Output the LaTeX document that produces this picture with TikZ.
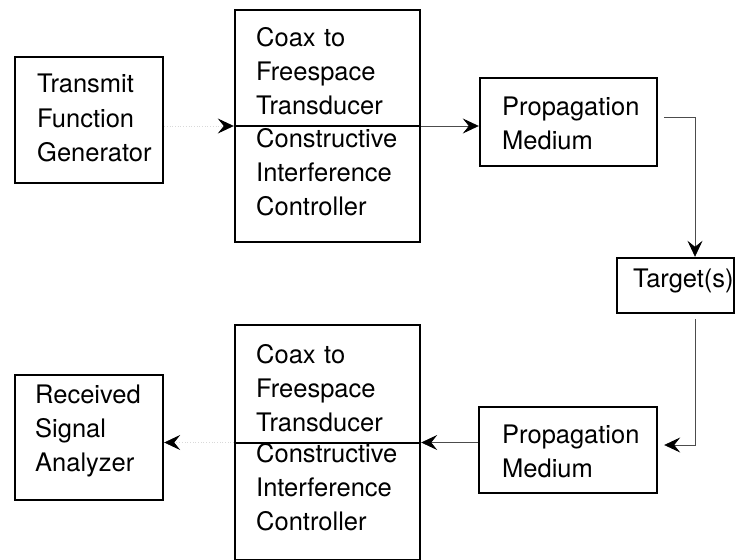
\documentclass[tikz,border=0pt]{standalone}
\usepackage{fontspec}
\setmainfont{TeX Gyre Heros}
\usetikzlibrary{arrows.meta}
\begin{document}
\begin{tikzpicture}[x=1pt,y=-1pt,
  box/.style={draw, line width=2.4pt, inner sep=0pt},
  txt/.style={anchor=base west, inner sep=0pt, align=left, text width=180pt,
              font=\fontsize{25.5}{34}\selectfont},
  tip/.style={-{Stealth[length=16pt,width=15pt,inset=6pt,color=black]}},
  conn/.style={tip, draw=black!70, line width=0.7pt},
  faint/.style={tip, draw=black!15, line width=0.7pt, dotted},
  divider/.style={line width=2pt}]
\clip (0,0) rectangle (735,559);
% boxes
\node[box, minimum width=148pt, minimum height=126pt] (tfg) at (89,120) {};
\node[box, minimum width=185pt, minimum height=232pt] (cft1) at (327.5,126) {};
\node[box, minimum width=177pt, minimum height=88pt] (pm1) at (568.5,122) {};
\node[box, minimum width=117pt, minimum height=55pt] (tgt) at (675.5,285.5) {};
\node[box, minimum width=185pt, minimum height=235pt] (cft2) at (327.5,442.5) {};
\node[box, minimum width=178pt, minimum height=86pt] (pm2) at (568,450) {};
\node[box, minimum width=148pt, minimum height=125pt] (rsa) at (89,437.5) {};
% dividers
\draw[divider] (cft1.west) -- (cft1.east);
\draw[divider] (cft2.west) -- (cft2.east);
% texts
\node[txt] (t1) at (37,93) {Transmit\\Function\\Generator};
\node[txt] (t2) at (256,47) {Coax to\\Freespace\\Transducer};
\node[txt] (t3) at (256,147) {Constructive\\Interference\\Controller};
\node[txt] (t4) at (502,115) {Propagation\\Medium};
\node[txt] (t5) at (633,287) {Target(s)};
\node[txt] (t6) at (256,363) {Coax to\\Freespace\\Transducer};
\node[txt] (t7) at (256,462) {Constructive\\Interference\\Controller};
\node[txt] (t8) at (502,443) {Propagation\\Medium};
\node[txt] (t9) at (35,403) {Received\\Signal\\Analyzer};
% connectors
\draw[faint] (tfg.east |- cft1.west) -- (cft1.west);
\draw[conn] (cft1.east) -- (cft1.east -| pm1.west);
\draw[conn] ([shift={(6pt,5pt)}]pm1.east) -| ([xshift=19.5pt]tgt.north);
\draw[conn] ([shift={(19.5pt,-5pt)}]tgt.south) |- ([shift={(6pt,5pt)}]pm2.east);
\draw[conn] (pm2.west |- cft2.east) -- (cft2.east);
\draw[faint] (cft2.west) -- (cft2.west -| rsa.east);
\end{tikzpicture}
\end{document}
